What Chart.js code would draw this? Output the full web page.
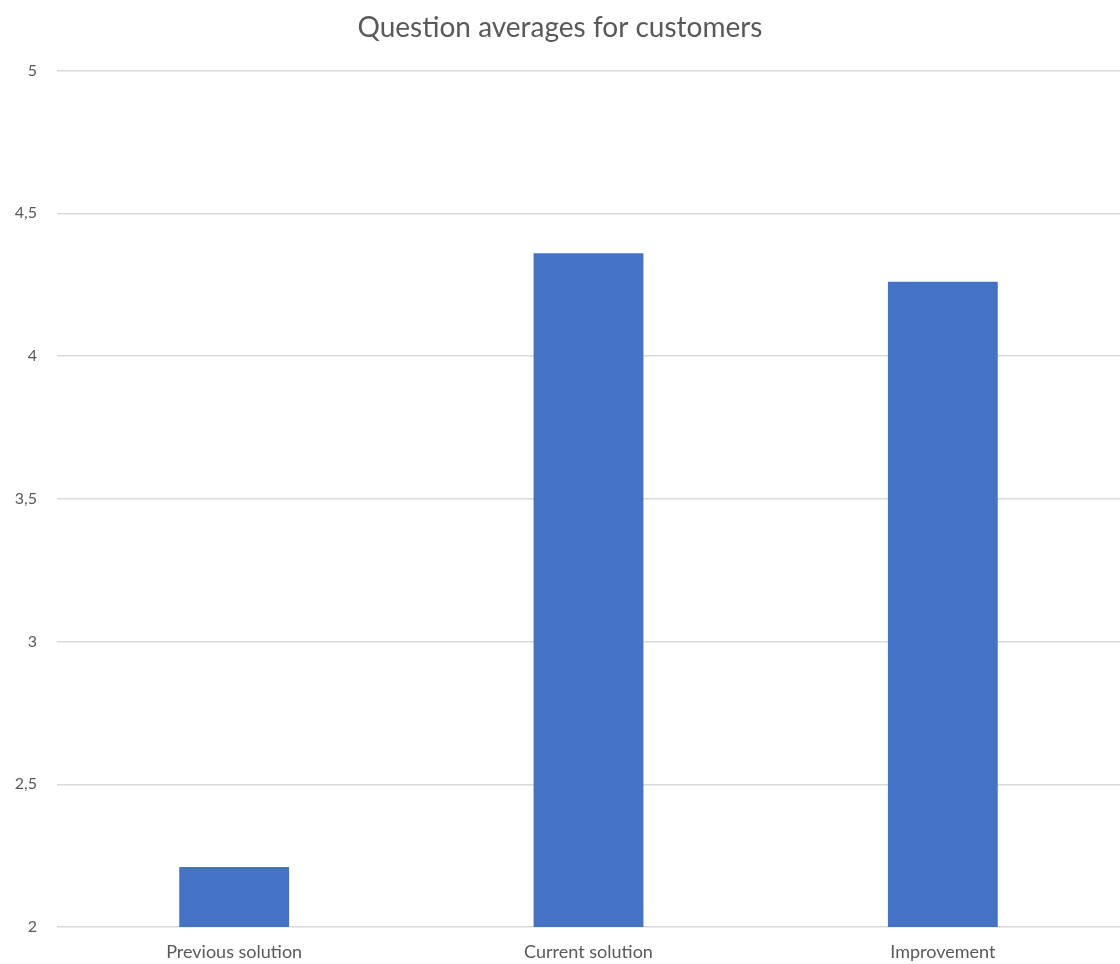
<!DOCTYPE html>
<html>
<head>
<meta charset="utf-8">
<script src="https://cdn.jsdelivr.net/npm/chart.js@4.4.0/dist/chart.umd.min.js"></script>
<style>
  html, body { margin: 0; padding: 0; background: #fff; }
  #wrap { width: 1120px; height: 964px; }
</style>
</head>
<body>
<div id="wrap"><canvas id="grafica"></canvas></div>
<script>
var categorias = ["Previous solution", "Current solution", "Improvement"];
var promedios = [2.21, 4.36, 4.26];
var titulo = "Question averages for customers";

var gris = "#595959";

var chart = new Chart(document.getElementById("grafica"), {
  type: "bar",
  data: {
    labels: categorias,
    datasets: [{
      label: "Average",
      data: promedios,
      backgroundColor: "#4472c4",
      categoryPercentage: 1,
      barPercentage: 0.31
    }]
  },
  options: {
    responsive: true,
    maintainAspectRatio: false,
    animation: false,
    layout: { padding: 0 },
    plugins: {
      legend: { display: false },
      tooltip: { enabled: false },
      title: {
        display: true,
        text: titulo,
        color: gris,
        font: { family: "Lato", size: 28, weight: "normal" },
        padding: { top: 11, bottom: 26 }
      }
    },
    scales: {
      x: {
        grid: { display: false },
        border: { display: false },
        ticks: { color: gris, font: { family: "Lato", size: 18 }, padding: 6 },
        afterFit: function(s) { s.height = 37; }
      },
      y: {
        min: 2,
        max: 5,
        ticks: {
          stepSize: 0.5,
          color: gris,
          font: { family: "Lato", size: 16 },
          padding: 20,
          callback: function(v) { return String(v).replace(".", ","); }
        },
        grid: { color: "#d9d9d9", lineWidth: 1.5, drawTicks: false },
        border: { display: false },
        afterFit: function(s) { s.width = 57; }
      }
    }
  }
});
</script>
</body>
</html>
